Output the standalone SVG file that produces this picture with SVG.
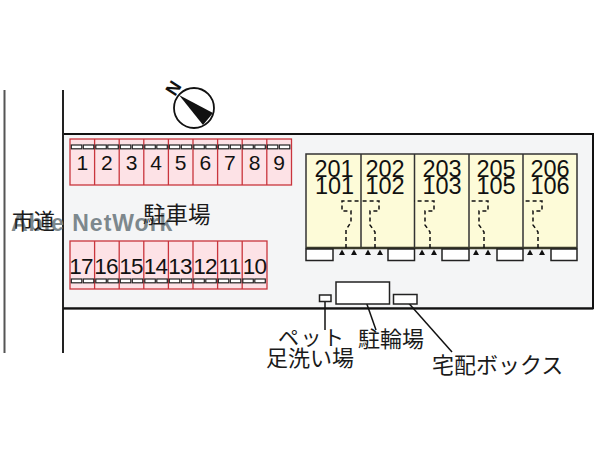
<svg xmlns="http://www.w3.org/2000/svg" width="600" height="450" viewBox="0 0 600 450">
<style>
.j{font-family:"Noto Sans CJK JP","Liberation Sans",sans-serif;fill:#1a1a1a}
.n{font-family:"Liberation Sans",Arial,sans-serif;fill:#111;text-anchor:middle}
.p{font-size:21px}.q{font-size:22.500px;letter-spacing:-0.800px}.r{font-size:23.500px}
.s{fill:#fde2e6;stroke:#c9353d;stroke-width:1.3}
.w{fill:#fff;stroke:#222;stroke-width:1.2}
.c{fill:#fff;stroke:#222;stroke-width:1.5}
.b{fill:none;stroke:#111;stroke-width:1.5;stroke-dasharray:4 3}
.l{fill:none;stroke:#111;stroke-width:1.5}
</style>
<defs>
<g id="t"><path d="M-3 0L0-5.500L3 0Z" fill="#111"/></g>
<g id="k"><rect class="w" x="-5.200" y="0" width="10.500" height="3.800"/></g>
</defs>
<rect width="600" height="450" fill="#fff"/>
<g id="site">
<rect x="63" y="134" width="530" height="174.500" fill="#f4f5f6" stroke="#111" stroke-width="2"/>
<rect x="0" y="309.500" width="600" height="140.500" fill="#fff"/>
<path d="M63 90V353" stroke="#222" stroke-width="2"/>
<path d="M4.500 90V353" stroke="#555" stroke-width="2"/>
<path d="M63 308.500H593" stroke="#111" stroke-width="2"/>
</g>
<g id="compass">
<circle cx="194" cy="108" r="20" fill="#fff" stroke="#111" stroke-width="1.800"/>
<path d="M179 95L213 113L203 125Z" fill="#111"/>
<text transform="translate(175 97) rotate(-57)" font-family="'Liberation Sans',sans-serif" font-weight="700" font-size="18" fill="#111">N</text>
</g>
<g id="parking-top">
<rect class="s" x="70" y="139" width="221.500" height="46"/>
<path class="s" d="M94.600 139V185M119.200 139V185M143.800 139V185M168.400 139V185M193 139V185M217.600 139V185M242.200 139V185M266.800 139V185"/>
<use href="#k" x="76.500" y="145"/><use href="#k" x="88.500" y="145"/><use href="#k" x="101" y="145"/><use href="#k" x="113" y="145"/><use href="#k" x="125.500" y="145"/><use href="#k" x="137.500" y="145"/><use href="#k" x="150" y="145"/><use href="#k" x="162" y="145"/><use href="#k" x="174.500" y="145"/><use href="#k" x="186.500" y="145"/><use href="#k" x="199" y="145"/><use href="#k" x="211" y="145"/><use href="#k" x="223.500" y="145"/><use href="#k" x="235.500" y="145"/><use href="#k" x="248" y="145"/><use href="#k" x="260" y="145"/><use href="#k" x="272.500" y="145"/><use href="#k" x="284.500" y="145"/>
<g class="n p">
<text x="82.300" y="169.500">1</text><text x="106.900" y="169.500">2</text><text x="131.500" y="169.500">3</text><text x="156.100" y="169.500">4</text><text x="180.700" y="169.500">5</text><text x="205.300" y="169.500">6</text><text x="229.900" y="169.500">7</text><text x="254.500" y="169.500">8</text><text x="279.100" y="169.500">9</text>
</g>
</g>
<g id="parking-bottom">
<rect class="s" x="70" y="241" width="197" height="48"/>
<path class="s" d="M94.600 241V289M119.200 241V289M143.800 241V289M168.400 241V289M193 241V289M217.600 241V289M242.200 241V289"/>
<use href="#k" x="76.500" y="279"/><use href="#k" x="88.500" y="279"/><use href="#k" x="101" y="279"/><use href="#k" x="113" y="279"/><use href="#k" x="125.500" y="279"/><use href="#k" x="137.500" y="279"/><use href="#k" x="150" y="279"/><use href="#k" x="162" y="279"/><use href="#k" x="174.500" y="279"/><use href="#k" x="186.500" y="279"/><use href="#k" x="199" y="279"/><use href="#k" x="211" y="279"/><use href="#k" x="223.500" y="279"/><use href="#k" x="235.500" y="279"/><use href="#k" x="248" y="279"/><use href="#k" x="260" y="279"/>
<g class="n q">
<text x="81" y="274">17</text><text x="106" y="274">16</text><text x="131" y="274">15</text><text x="155.500" y="274">14</text><text x="180" y="274">13</text><text x="205" y="274">12</text><text x="229.500" y="274">11</text><text x="254.500" y="274">10</text>
</g>
</g>
<g id="building">
<rect x="306" y="154" width="271" height="94" fill="#fdfbd8" stroke="#333" stroke-width="1.500"/>
<path d="M361 154V248M414.500 154V248M469 154V248M523 154V248" stroke="#333" stroke-width="1.500"/>
<path d="M306 248H577" stroke="#3a3a2a" stroke-width="2.500"/>
<rect class="c" x="306" y="249" width="27" height="11.500"/>
<rect class="c" x="388" y="249" width="26.500" height="11.500"/>
<rect class="c" x="442" y="249" width="27" height="11.500"/>
<rect class="c" x="497" y="249" width="26" height="11.500"/>
<rect class="c" x="551" y="249" width="26" height="11.500"/>
<use href="#t" x="342" y="255"/><use href="#t" x="354" y="255"/><use href="#t" x="368" y="255"/><use href="#t" x="380" y="255"/><use href="#t" x="422" y="255"/><use href="#t" x="434" y="255"/><use href="#t" x="476" y="255"/><use href="#t" x="488" y="255"/><use href="#t" x="530" y="255"/><use href="#t" x="542" y="255"/>
<g class="n r">
<text x="334" y="176.500">201</text><text x="334.500" y="194">101</text>
<text x="385" y="176.500">202</text><text x="385" y="194">102</text>
<text x="442" y="176.500">203</text><text x="442" y="194">103</text>
<text x="496" y="176.500">205</text><text x="496" y="194">105</text>
<text x="550" y="176.500">206</text><text x="550" y="194">106</text>
</g>
</g>
<g id="connectors">
<path class="b" d="M346 248V230L351 222V211H342V201H361"/>
<path class="b" d="M375 248V232L370 225V211H379V201H361"/>
<path class="b" d="M430 248V232L425 225V211H434V201H414"/>
<path class="b" d="M484 248V232L479 225V211H488V201H469"/>
<path class="b" d="M538 248V232L533 225V211H542V201H523"/>
<path class="l" d="M325 301V330"/>
<path class="l" d="M363 293L376 330"/>
<path class="l" d="M405 299L452 352"/>
</g>
<g id="pet-wash"><rect class="c" x="319.500" y="295" width="11.500" height="6.500"/></g>
<g id="bike-parking"><rect class="c" x="336" y="282" width="53.500" height="22"/></g>
<g id="delivery-box"><rect class="c" x="393.500" y="294.500" width="23.500" height="9.500"/></g>
<g id="labels">
<text x="11" y="231" font-family="'Liberation Sans',sans-serif" font-weight="700" font-size="23" letter-spacing="1" fill="#7d888d">Able NetWork</text>
<text class="j" x="12" y="229" font-size="21.500">市道</text>
<text class="j" x="143" y="223" font-size="22.500">駐車場</text>
<text class="j" x="278" y="345" font-size="21" letter-spacing="1.500">ペット</text>
<text class="j" x="266" y="366" font-size="22">足洗い場</text>
<text class="j" x="358" y="347" font-size="22">駐輪場</text>
<text class="j" x="432" y="373" font-size="22">宅配ボックス</text>
</g>
</svg>
